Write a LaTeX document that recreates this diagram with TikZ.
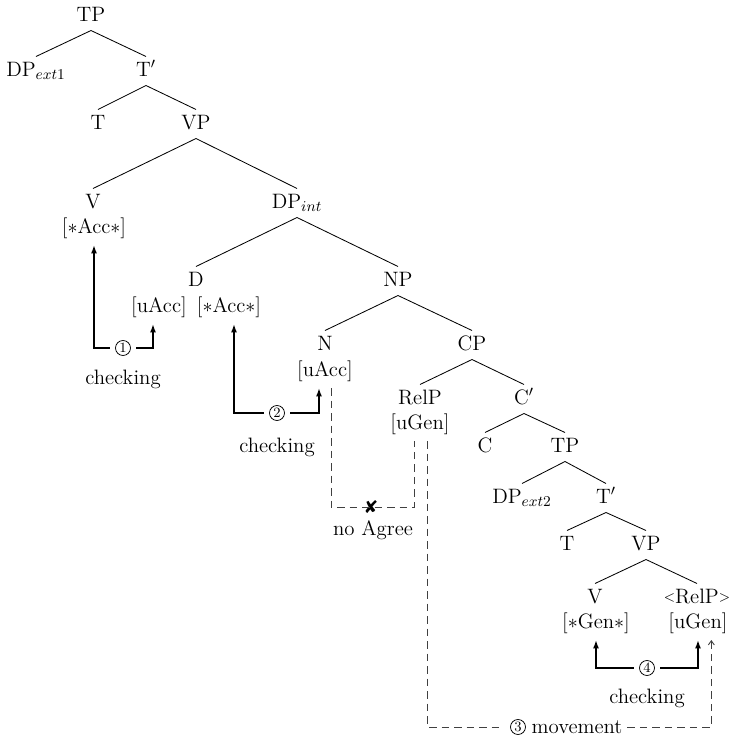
\documentclass[tikz,border=0pt]{standalone}
\usepackage{fontspec}
\newfontfamily\symfont{DejaVu Sans}
\newcommand\angl[1]{\raisebox{1pt}{\fontsize{8.5}{9}\selectfont #1}}
\usetikzlibrary{arrows.meta}

\tikzset{
  cat/.style={anchor=base, inner xsep=1pt, inner ysep=3pt, text height=8.5pt, text depth=2.5pt},
  feat/.style={anchor=base, inner xsep=1pt, inner ysep=4pt, text height=8.5pt, text depth=3pt},
  lbl/.style={anchor=base, inner sep=1pt},
  circnum/.style={circle, draw, line width=0.45pt, inner sep=0pt, minimum size=9pt,
                  outer sep=3.5pt, font=\fontsize{8.5}{9}\selectfont},
  branch/.style={line width=0.5pt},
  chk/.style={line width=1.1pt, -{Latex[length=5pt,width=3.6pt]}},
  agreeline/.style={black!75, line width=0.55pt, dash pattern=on 4.5pt off 3pt},
  movetip/.style={-{Straight Barb[length=2.5pt,width=3.6pt]}}
}

\begin{document}
\begin{tikzpicture}[x=0.6pt,y=-0.6pt,font=\fontsize{12.5}{15}\selectfont]

    \useasboundingbox (0,0) rectangle (731,739);

    % Arbre principal
    \node[cat] (TPa) at (91,21) {TP};
    \node[cat] (DPa) at (36,76) {DP$_{ext1}$};
    \node[cat] (Tba) at (146,76) {T$'$};
    \node[cat] (Ta) at (98,129) {T};
    \node[cat] (VPa) at (196,129) {VP};
    \node[cat] (Va) at (93,208) {V};
    \node[feat] (Vaf) at (94,233) {[$\ast$Acc$\ast$]};
    \node[cat] (DPint) at (297,208) {DP$_{int}$};
    \node[cat] (D) at (196,286) {D};
    \node[feat] (Du) at (159,312) {[uAcc]};
    \node[feat] (Ds) at (229,312) {[$\ast$Acc$\ast$]};
    \node[cat] (NP) at (398,286) {NP};
    \node[cat] (N) at (325,350) {N};
    \node[feat] (Nf) at (325,376) {[uAcc]};
    \node[cat] (CP) at (472,350) {CP};

    % Relative
    \node[cat] (RelP) at (420,404) {RelP};
    \node[feat] (RelPf) at (420,429) {[uGen]};
    \node[cat] (Cb) at (524,404) {C$'$};
    \node[cat] (C) at (485,452) {C};
    \node[cat] (TPb) at (565,452) {TP};
    \node[cat] (DPb) at (522,503) {DP$_{ext2}$};
    \node[cat] (Tbb) at (606,503) {T$'$};
    \node[cat] (Tb) at (567,550) {T};
    \node[cat] (VPb) at (646,550) {VP};
    \node[cat] (Vb) at (595,603) {V};
    \node[feat] (Vbf) at (596,628) {[$\ast$Gen$\ast$]};
    \node[cat, inner xsep=0pt] (RelPb) at (697,603) {\angl{\textless}RelP\angl{\textgreater}};
    \node[feat] (RelPbf) at (698,628) {[uGen]};

    % Branches
    \foreach \p/\c in {TPa/DPa, TPa/Tba, Tba/Ta, Tba/VPa, VPa/Va, VPa/DPint,
                       DPint/D, DPint/NP, NP/N, NP/CP, CP/RelP, CP/Cb,
                       Cb/C, Cb/TPb, TPb/DPb, TPb/Tbb, Tbb/Tb, Tbb/VPb,
                       VPb/Vb, VPb/RelPb}{
      \draw[branch] (\p.south) -- (\c.north);
    }

    % ---- Checking ----
    \node[circnum] (n1) at (123,348) {1};
    \node[lbl] (chk1) at (123,384) {checking};
    \draw[chk] (n1.west) -| (Vaf.south);
    \draw[chk] (n1.east) -| ([xshift=-3.6pt]Du.south);

    \node[circnum] (n2) at (277,413) {2};
    \node[lbl] (chk2) at (277,452) {checking};
    \draw[chk] (n2.west) -| ([xshift=3pt]Ds.south);
    \draw[chk] (n2.east) -| ([xshift=-3.6pt]Nf.south);

    \node[circnum] (n4) at (647,668) {4};
    \node[lbl] (chk4) at (647,703) {checking};
    \draw[chk] (n4.west) -| (Vbf.south);
    \draw[chk] (n4.east) -| (RelPbf.south);

    % No Agree
    \node[inner sep=0pt, font=\symfont\fontsize{10.5}{11}\selectfont] (cross) at (371,507) {✘};
    \node[lbl] (noag) at (373,535) {no Agree};
    \draw[agreeline] ([xshift=3.6pt]Nf.south) |- (cross.center) -| ([xshift=-3.6pt]RelPf.south);

    % Movement
    \node[circnum, outer sep=4pt] (n3) at (518,727) {3};
    \node[inner sep=1pt, outer sep=2pt] (mv) at (577,727) {movement};
    \draw[agreeline] ([xshift=4.5pt]RelPf.south) |- (n3.west);
    \draw[agreeline, movetip] (mv.east) -| ([xshift=8pt]RelPbf.south);

\end{tikzpicture}
\end{document}
